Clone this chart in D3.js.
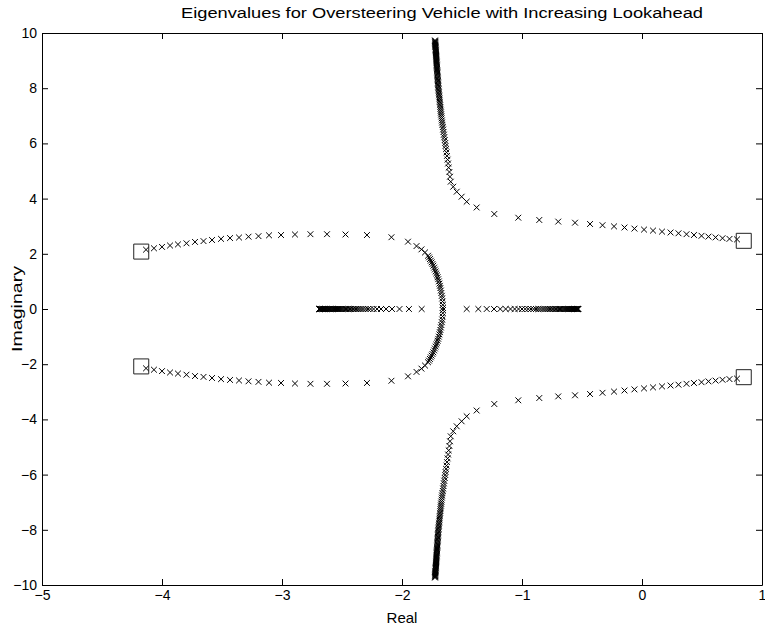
<!DOCTYPE html>
<html>
<head>
<meta charset="utf-8">
<script src="https://cdn.jsdelivr.net/npm/d3@7"></script>
<style>
  html, body { margin: 0; padding: 0; background: #fff; }
  svg { display: block; font-family: "Liberation Sans", Arial, Helvetica, sans-serif; }
</style>
</head>
<body>
<svg id="chart" width="765" height="631"></svg>
<script>
// ---------- data (upper half-plane; eigenvalues come in conjugate pairs) ----------
const chartTitle = "Eigenvalues for Oversteering Vehicle with Increasing Lookahead";
const xLabel = "Real";
const yLabel = "Imaginary";
const xTicks = [-5, -4, -3, -2, -1, 0, 1];
const yTicks = [-10, -8, -6, -4, -2, 0, 2, 4, 6, 8, 10];

// starting eigenvalues (squares), upper half
const startPoles = [[-4.173, 2.08], [0.848, 2.47]];

// left complex pair: from the left square towards the real axis (arc)
const leftComplexUpper = [
  [-4.133, 2.15], [-4.067, 2.20], [-4.000, 2.25], [-3.933, 2.30], [-3.867, 2.34],
  [-3.796, 2.38], [-3.725, 2.43], [-3.654, 2.46], [-3.583, 2.50], [-3.508, 2.54],
  [-3.433, 2.57], [-3.358, 2.59], [-3.279, 2.62], [-3.196, 2.64], [-3.108, 2.67],
  [-3.008, 2.68], [-2.892, 2.70], [-2.763, 2.71], [-2.625, 2.71], [-2.471, 2.70],
  [-2.292, 2.68], [-2.088, 2.60], [-1.950, 2.44], [-1.879, 2.28], [-1.838, 2.16],
  [-1.808, 2.05], [-1.783, 1.93], [-1.775, 1.87], [-1.767, 1.81], [-1.760, 1.75],
  [-1.753, 1.69], [-1.746, 1.63], [-1.739, 1.57], [-1.732, 1.50], [-1.726, 1.43],
  [-1.720, 1.36], [-1.714, 1.29], [-1.708, 1.22], [-1.703, 1.15], [-1.698, 1.08],
  [-1.693, 1.00], [-1.688, 0.92], [-1.684, 0.84], [-1.680, 0.76], [-1.676, 0.67],
  [-1.672, 0.58], [-1.668, 0.48], [-1.665, 0.38], [-1.662, 0.27], [-1.660, 0.15],
  [-1.659, 0.04]
];

// after the pair reaches the real axis: one real eigenvalue moving left
const realLeft = [
  -1.836, -1.942, -2.021, -2.083, -2.133, -2.175, -2.208, -2.237, -2.262, -2.283,
  -2.303, -2.322, -2.338, -2.354, -2.369, -2.383, -2.397, -2.409, -2.422, -2.433,
  -2.445, -2.456, -2.467, -2.477, -2.487, -2.497, -2.506, -2.515, -2.524, -2.533,
  -2.541, -2.549, -2.558, -2.565, -2.573, -2.580, -2.588, -2.595, -2.602, -2.608,
  -2.615, -2.622, -2.628, -2.635, -2.641, -2.647, -2.653, -2.658, -2.664, -2.669,
  -2.674, -2.679, -2.684, -2.686, -2.688, -2.689, -2.690
];

// ... and one real eigenvalue moving right
const realRight = [
  -1.461, -1.364, -1.294, -1.233, -1.181, -1.136, -1.096, -1.061, -1.029, -1.000,
  -0.973, -0.948, -0.925, -0.903, -0.883, -0.864, -0.846, -0.828, -0.812, -0.796,
  -0.781, -0.767, -0.753, -0.740, -0.728, -0.716, -0.704, -0.693, -0.683, -0.673,
  -0.663, -0.653, -0.644, -0.635, -0.627, -0.618, -0.611, -0.603, -0.597, -0.590,
  -0.583, -0.578, -0.572, -0.567, -0.562, -0.557, -0.553, -0.548, -0.545, -0.542,
  -0.538, -0.536, -0.533, -0.532, -0.530
];

// right complex pair: from the right square leftwards, then up the asymptote
const rightComplexUpper = [
  [0.792, 2.522], [0.729, 2.540], [0.671, 2.565], [0.613, 2.594], [0.554, 2.623],
  [0.496, 2.652], [0.433, 2.681], [0.371, 2.710], [0.304, 2.743], [0.238, 2.772],
  [0.167, 2.804], [0.092, 2.841], [0.017, 2.877], [-0.063, 2.913], [-0.146, 2.953],
  [-0.233, 2.993], [-0.329, 3.036], [-0.433, 3.080], [-0.558, 3.127], [-0.698, 3.167],
  [-0.856, 3.225], [-1.031, 3.308], [-1.231, 3.442], [-1.378, 3.678], [-1.461, 3.888],
  [-1.503, 4.069], [-1.544, 4.250], [-1.573, 4.431], [-1.594, 4.612], [-1.600, 4.793],
  [-1.605, 4.964], [-1.611, 5.123], [-1.616, 5.272], [-1.620, 5.413], [-1.625, 5.547],
  [-1.629, 5.674], [-1.633, 5.793], [-1.637, 5.906], [-1.640, 6.014], [-1.644, 6.119],
  [-1.648, 6.221], [-1.651, 6.319], [-1.654, 6.413], [-1.657, 6.504], [-1.660, 6.591],
  [-1.663, 6.674], [-1.666, 6.754], [-1.668, 6.830], [-1.670, 6.906], [-1.672, 6.978],
  [-1.674, 7.051], [-1.676, 7.120], [-1.677, 7.188], [-1.679, 7.254], [-1.680, 7.319],
  [-1.682, 7.384], [-1.683, 7.446], [-1.685, 7.507], [-1.686, 7.569], [-1.688, 7.627],
  [-1.689, 7.685], [-1.691, 7.743], [-1.692, 7.797], [-1.693, 7.851], [-1.694, 7.906],
  [-1.696, 7.960], [-1.697, 8.011], [-1.698, 8.062], [-1.699, 8.112], [-1.700, 8.163],
  [-1.700, 8.210], [-1.701, 8.257], [-1.702, 8.304], [-1.703, 8.351], [-1.703, 8.399],
  [-1.704, 8.442], [-1.705, 8.486], [-1.705, 8.529], [-1.706, 8.572], [-1.707, 8.616],
  [-1.707, 8.656], [-1.708, 8.696], [-1.709, 8.736], [-1.709, 8.775], [-1.710, 8.815],
  [-1.710, 8.855], [-1.711, 8.891], [-1.712, 8.928], [-1.712, 8.964], [-1.713, 9.000],
  [-1.713, 9.036], [-1.714, 9.072], [-1.714, 9.109], [-1.715, 9.141], [-1.715, 9.174],
  [-1.716, 9.207], [-1.716, 9.239], [-1.717, 9.272], [-1.718, 9.304], [-1.718, 9.337],
  [-1.719, 9.370], [-1.719, 9.399], [-1.720, 9.428], [-1.720, 9.457], [-1.721, 9.486],
  [-1.721, 9.514], [-1.722, 9.543], [-1.722, 9.572], [-1.723, 9.601], [-1.723, 9.630],
  [-1.723, 9.656], [-1.724, 9.681], [-1.724, 9.707], [-1.725, 9.732]
];

// ---------- build point sets (add complex conjugates) ----------
const conj = arr => arr.map(([re, im]) => [re, -im]);
const crossPoints = [].concat(
  leftComplexUpper, conj(leftComplexUpper),
  rightComplexUpper, conj(rightComplexUpper),
  realLeft.map(r => [r, 0]), realRight.map(r => [r, 0])
);
const squarePoints = startPoles.concat(conj(startPoles));

// ---------- layout ----------
const W = 765, H = 631;
const margin = { left: 42, right: 3, top: 33, bottom: 46 };
const svg = d3.select("#chart");
const x = d3.scaleLinear().domain([-5, 1]).range([margin.left, W - margin.right]);
const y = d3.scaleLinear().domain([-10, 10]).range([H - margin.bottom, margin.top]);

const fontSize = 14;
const tickLen = 6;
const fmt = d3.format("d");

// axes (box with inward ticks on all sides)
const gB = svg.append("g").attr("transform", `translate(0,${y(-10)})`)
  .call(d3.axisBottom(x).tickValues(xTicks).tickFormat(fmt).tickSizeInner(-tickLen).tickSizeOuter(0).tickPadding(5));
const gT = svg.append("g").attr("transform", `translate(0,${y(10)})`)
  .call(d3.axisTop(x).tickValues(xTicks).tickSizeInner(-tickLen).tickSizeOuter(0).tickFormat(""));
const gL = svg.append("g").attr("transform", `translate(${x(-5)},0)`)
  .call(d3.axisLeft(y).tickValues(yTicks).tickFormat(fmt).tickSizeInner(-tickLen).tickSizeOuter(0).tickPadding(5));
const gR = svg.append("g").attr("transform", `translate(${x(1)},0)`)
  .call(d3.axisRight(y).tickValues(yTicks).tickSizeInner(-tickLen).tickSizeOuter(0).tickFormat(""));

[gB, gT, gL, gR].forEach(g => {
  g.select(".domain").attr("stroke", "#000").attr("stroke-width", 1);
  g.selectAll(".tick line").attr("stroke", "#000").attr("stroke-width", 1);
  g.selectAll(".tick text").attr("fill", "#000")
    .style("font-family", "'Liberation Sans', Arial, sans-serif")
    .style("font-size", fontSize + "px");
});

// markers
const plot = svg.append("g");
const xs = 2.9;
plot.selectAll("path.cross").data(crossPoints).join("path")
  .attr("class", "cross")
  .attr("transform", d => `translate(${x(d[0])},${y(d[1])})`)
  .attr("d", `M${-xs},${-xs}L${xs},${xs}M${-xs},${xs}L${xs},${-xs}`)
  .attr("fill", "none").attr("stroke", "#000").attr("stroke-width", 1);

plot.selectAll("path.sq").data(squarePoints).join("path")
  .attr("class", "sq")
  .attr("transform", d => `translate(${x(d[0])},${y(d[1])})`)
  .attr("d", d3.symbol(d3.symbolSquare, 15 * 15)())
  .attr("fill", "none").attr("stroke", "#222").attr("stroke-width", 1);

// texts
svg.append("text").attr("x", 442).attr("y", 18)
  .attr("text-anchor", "middle").style("font-size", "15.5px")
  .attr("textLength", 522).attr("lengthAdjust", "spacingAndGlyphs")
  .text(chartTitle);
svg.append("text").attr("x", (x(-5) + x(1)) / 2).attr("y", 623)
  .attr("text-anchor", "middle").style("font-size", "15px").text(xLabel);
svg.append("text").attr("transform", `translate(22,${(y(-10) + y(10)) / 2}) rotate(-90)`)
  .attr("text-anchor", "middle").style("font-size", "15.5px")
  .attr("textLength", 86).attr("lengthAdjust", "spacingAndGlyphs")
  .text(yLabel);
</script>
</body>
</html>
